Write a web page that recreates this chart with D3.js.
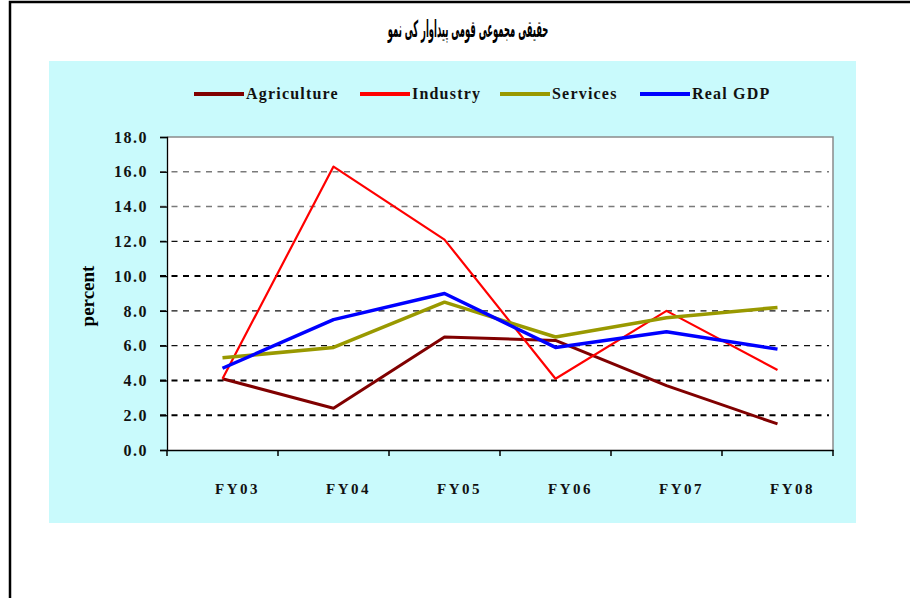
<!DOCTYPE html>
<html>
<head>
<meta charset="utf-8">
<script src="https://cdn.jsdelivr.net/npm/d3@7"></script>
<style>
  body { margin: 0; background: #fff; }
  svg { display: block; }
  .serif { font-family: "Liberation Serif", "DejaVu Serif", serif; font-weight: bold; }
</style>
</head>
<body>
<div id="chart"></div>
<script>
// values (percent growth)
var years = ["FY03", "FY04", "FY05", "FY06", "FY07", "FY08"];
var agriculture = [4.1, 2.4, 6.5, 6.3, 3.7, 1.5];
var industry = [4.1, 16.3, 12.1, 4.1, 8.0, 4.6];
var services = [5.3, 5.9, 8.5, 6.5, 7.6, 8.2];
var realGdp = [4.7, 7.5, 9.0, 5.9, 6.8, 5.8];
var yTicks = [0, 2, 4, 6, 8, 10, 12, 14, 16, 18];
var seriesNames = ["Agriculture", "Industry", "Services", "Real GDP"];
var title = "حقیقی مجموعی قومی پیداوار کی نمو";

var W = 910, H = 598;
var plot = {left: 167, right: 833, top: 137, bottom: 450};

var series = [
  {name: seriesNames[0], values: agriculture, color: "#800000", width: 3},
  {name: seriesNames[1], values: industry, color: "#ff0000", width: 2.2},
  {name: seriesNames[2], values: services, color: "#999900", width: 3.5},
  {name: seriesNames[3], values: realGdp, color: "#0000ff", width: 3.5}
];

var svg = d3.select("#chart").append("svg")
  .attr("width", W)
  .attr("height", H);

// outer frame (only left + top edges show in the scan)
svg.append("path")
  .attr("d", "M10,598 V2 H910")
  .attr("fill", "none")
  .attr("stroke", "#000")
  .attr("stroke-width", 2.5);

// nastaliq in the original is tall and narrow, so squeeze the naskh font sideways
svg.append("text")
  .attr("transform", "translate(468,37) scale(0.52,1.3)")
  .attr("text-anchor", "middle")
  .attr("direction", "rtl")
  .style("font-family", "'DejaVu Sans Condensed', 'DejaVu Sans', sans-serif")
  .style("font-weight", "bold")
  .style("font-size", "18px")
  .text(title);

// turquoise chart area
svg.append("rect")
  .attr("x", 49).attr("y", 61)
  .attr("width", 807).attr("height", 462)
  .attr("fill", "#c9fafc");

// plot area
svg.append("rect")
  .attr("x", plot.left).attr("y", plot.top)
  .attr("width", plot.right - plot.left).attr("height", plot.bottom - plot.top)
  .attr("fill", "#fff");
svg.append("path")
  .attr("d", "M" + plot.left + "," + plot.top + " H" + plot.right + " V" + plot.bottom)
  .attr("fill", "none")
  .attr("stroke", "#8a8a8a")
  .attr("stroke-width", 1.5);

var x = d3.scaleBand().domain(years).range([plot.left, plot.right]);
var y = d3.scaleLinear().domain([0, 18]).range([plot.bottom, plot.top]);

// gridlines - the scan makes some look heavier/greyer than others
function gridStyle(v) {
  if (v >= 14) return {c: "#7a7a7a", w: 1.6};
  if (v == 10 || v == 4 || v == 2) return {c: "#000", w: 2};
  return {c: "#111", w: 1.2};
}
var gridTicks = yTicks.filter(function(v){ return v > 0 && v < 18; });
svg.append("g").selectAll("line")
  .data(gridTicks)
  .enter().append("line")
  .attr("x1", plot.left - 7)
  .attr("x2", plot.right - 4)
  .attr("y1", function(d){ return y(d); })
  .attr("y2", function(d){ return y(d); })
  .attr("stroke", function(d){ return gridStyle(d).c; })
  .attr("stroke-width", function(d){ return gridStyle(d).w; })
  .attr("stroke-dasharray", "6,5.5");

// y axis
var yAxis = svg.append("g")
  .attr("transform", "translate(" + plot.left + ",0)")
  .call(d3.axisLeft(y).tickValues(yTicks).tickFormat(d3.format(".1f")).tickSize(7).tickPadding(12));
yAxis.select(".domain").attr("stroke", "#000").attr("stroke-width", 1.3);
yAxis.selectAll(".tick line").attr("stroke", "#000").attr("stroke-width", 1.3);
yAxis.selectAll("text")
  .attr("class", "serif")
  .style("font-size", "16px")
  .style("letter-spacing", "1.5px")
  .attr("fill", "#111");

// x axis: ticks on band edges, labels sit a bit right of centre in the original
var xAxis = svg.append("g")
  .attr("transform", "translate(0," + plot.bottom + ")")
  .call(d3.axisBottom(x).tickSize(0).tickPadding(0));
xAxis.select(".domain").attr("stroke", "#000").attr("stroke-width", 1.5);
xAxis.selectAll(".tick text")
  .attr("class", "serif")
  .attr("dx", 15)
  .attr("y", 33)
  .style("font-size", "15px")
  .style("letter-spacing", "2.5px")
  .attr("fill", "#111");
svg.append("g").selectAll("line")
  .data(years.concat(["end"]))
  .enter().append("line")
  .attr("x1", function(d, i){ return plot.left + i * x.bandwidth(); })
  .attr("x2", function(d, i){ return plot.left + i * x.bandwidth(); })
  .attr("y1", plot.bottom)
  .attr("y2", plot.bottom + 6)
  .attr("stroke", "#000")
  .attr("stroke-width", 1.5);

svg.append("text")
  .attr("class", "serif")
  .attr("transform", "translate(94,296) rotate(-90)")
  .attr("text-anchor", "middle")
  .style("font-size", "19px")
  .text("percent");

// series lines
var line = d3.line()
  .x(function(d, i){ return x(years[i]) + x.bandwidth() / 2; })
  .y(function(d){ return y(d); });

svg.append("g").selectAll("path")
  .data(series)
  .enter().append("path")
  .attr("d", function(s){ return line(s.values); })
  .attr("fill", "none")
  .attr("stroke", function(s){ return s.color; })
  .attr("stroke-width", function(s){ return s.width; })
  .attr("stroke-linejoin", "round");

// legend
var legendX = [194, 360, 500, 640];
var leg = svg.append("g").selectAll("g")
  .data(series)
  .enter().append("g")
  .attr("transform", function(s, i){ return "translate(" + legendX[i] + ",94)"; });
leg.append("line")
  .attr("x1", 0).attr("x2", 50)
  .attr("stroke", function(s){ return s.color; })
  .attr("stroke-width", 4);
leg.append("text")
  .attr("class", "serif")
  .attr("x", 52).attr("y", 5)
  .style("font-size", "16px")
  .style("letter-spacing", "1.2px")
  .attr("fill", "#111")
  .text(function(s){ return s.name; });
</script>
</body>
</html>
